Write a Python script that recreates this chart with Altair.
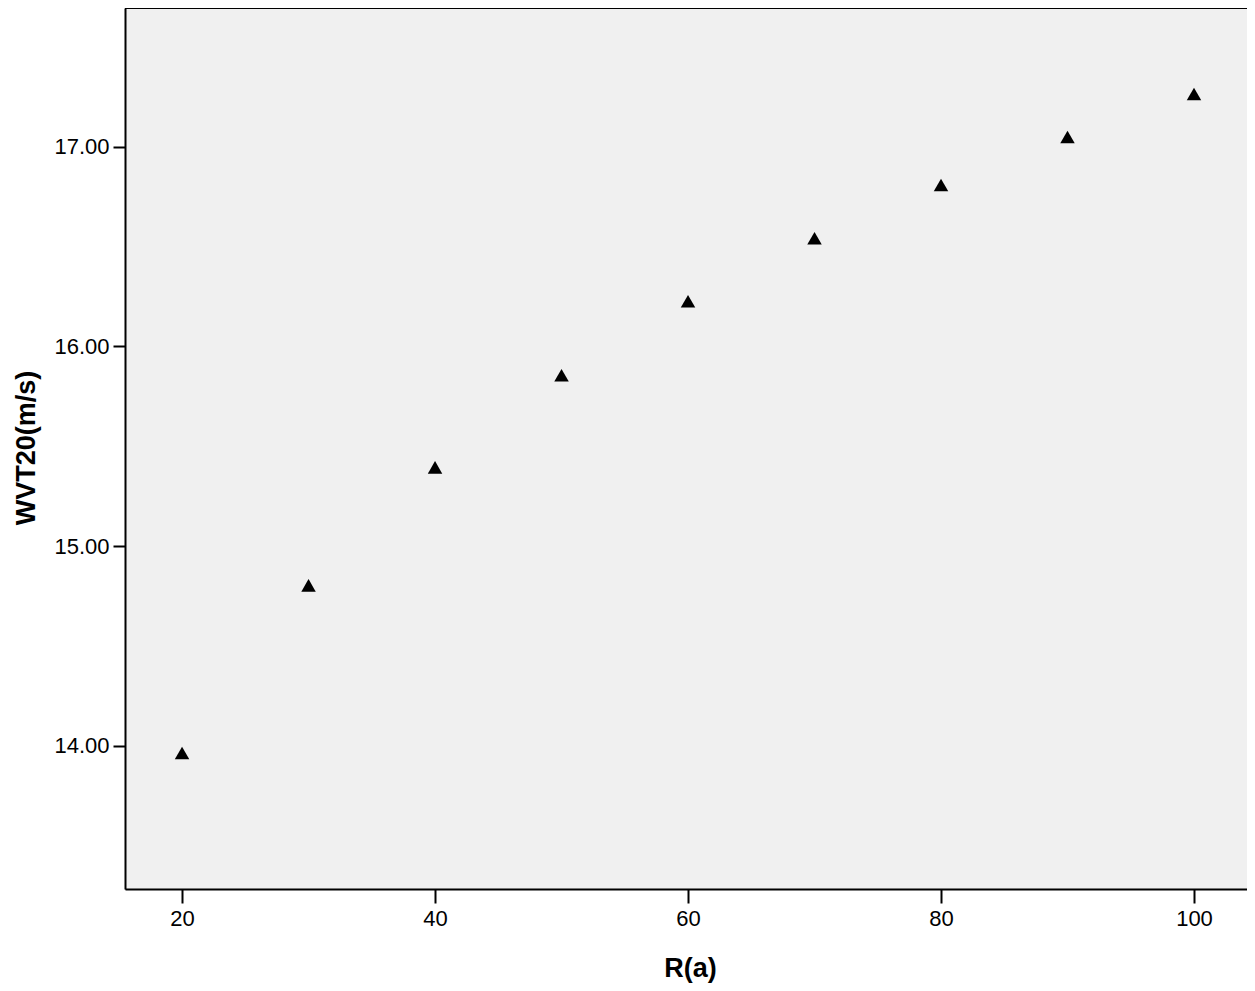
import altair as alt
import pandas as pd

r_a = [20, 30, 40, 50, 60, 70, 80, 90, 100]
wvt20 = [13.963, 14.803, 15.394, 15.855, 16.226, 16.542, 16.808, 17.049, 17.264]

x_ticks = [20, 40, 60, 80, 100]
y_ticks = [14, 15, 16, 17]

df = pd.DataFrame({"R(a)": r_a, "WVT20(m/s)": wvt20})

FONT = "Liberation Sans, Arial, sans-serif"
W, H = 1122, 881

points = alt.Chart(df).mark_point(
    shape="triangle-up", filled=True, color="black", opacity=1, size=210
).encode(
    x=alt.X("R(a):Q",
            scale=alt.Scale(domain=[15.49, 104.19], nice=False, zero=False),
            axis=alt.Axis(
                values=x_ticks, format="d", title="R(a)", grid=False,
                domainColor="black", domainWidth=2,
                tickColor="black", tickWidth=2, tickSize=14,
                labelFont=FONT, labelFontSize=22, labelColor="black", labelPadding=5,
                titleFont=FONT, titleFontSize=27, titleFontWeight="bold", titleColor="black",
                titleBaseline="alphabetic", titleY=87, titleX=W / 2 + 4,
            )),
    y=alt.Y("WVT20(m/s):Q",
            scale=alt.Scale(domain=[13.282, 17.695], nice=False, zero=False),
            axis=alt.Axis(
                values=y_ticks, format=".2f", title="WVT20(m/s)", grid=False,
                domainColor="black", domainWidth=2,
                tickColor="black", tickWidth=2, tickSize=12,
                labelFont=FONT, labelFontSize=22, labelColor="black", labelPadding=4,
                titleFont=FONT, titleFontSize=27, titleFontWeight="bold", titleColor="black",
                titleAngle=-90, titleBaseline="alphabetic", titleAlign="center",
                titleX=-91, titleY=439.5,
            )),
)

top_line = alt.Chart(df).mark_rule(color="black", strokeWidth=2).encode(
    x=alt.value(0), x2=alt.value(W), y=alt.value(0)
)

chart = alt.layer(top_line, points).properties(
    width=W, height=H,
    background="white",
    autosize=alt.AutoSizeParams(type="none"),
    padding={"left": 117, "top": 0, "right": 0, "bottom": 94},
).configure_view(
    fill="#f0f0f0", stroke="#999999", strokeWidth=1
)

chart.save("out.html", embed_options={"renderer": "svg", "actions": False})
